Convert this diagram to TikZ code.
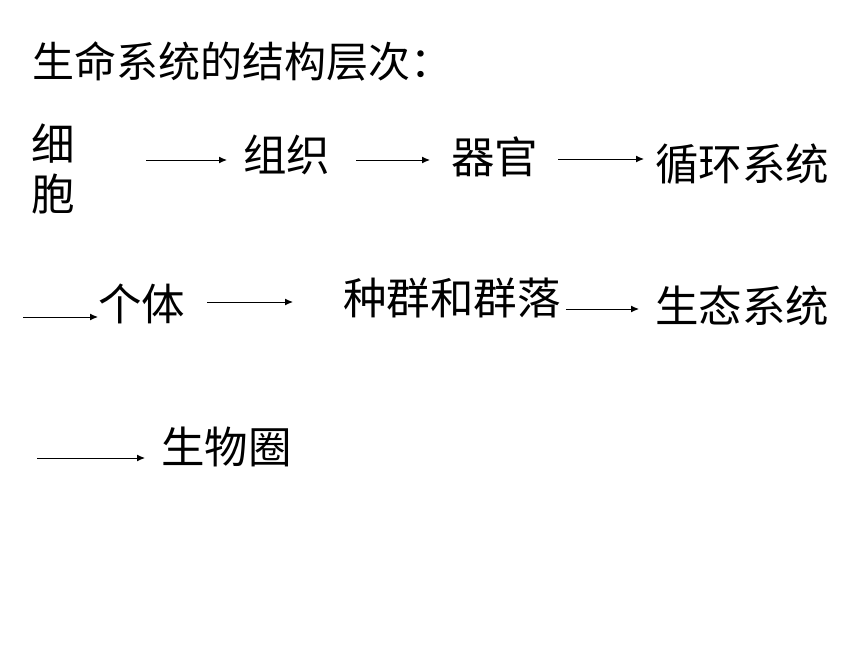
\documentclass[tikz,border=0pt]{standalone}
\usepackage{fontspec}
\setmainfont{Noto Sans CJK SC}
\usetikzlibrary{arrows, arrows.meta, positioning}

\begin{document}
\begin{tikzpicture}[>={Latex[length=8pt, width=7pt]}, x=1pt, y=-1pt,
    level/.style={inner sep=0pt, anchor=west, font=\fontsize{43.5}{50}\selectfont},
    link/.style={->, line width=1pt}]
      \useasboundingbox (0, 0) rectangle (860, 645);

      \node[level, font=\fontsize{42}{50}\selectfont] (title) at (32, 61) {生命系统的结构层次：};

      % first row
      \node[level, align=left] (cell) at (31, 169) {细\\胞};
      \node[level] (tissue) at (243, 155) {组织};
      \node[level] (organ) at (451, 157) {器官};
      \node[level] (system) at (655, 164) {循环系统};

      % second row
      \node[level] (individual) at (98, 304) {个体};
      \node[level] (community) at (343, 298) {种群和群落};
      \node[level] (ecosystem) at (655, 306) {生态系统};

      % third row
      \node[level] (biosphere) at (161, 447) {生物圈};

      \coordinate (in1) at (23, 317);
      \coordinate (in2) at (37, 458);

      \draw[link] (146, 160) coordinate (c1) -- (227, 160) coordinate (c2);
      \draw[link] (356, 160) coordinate (c3) -- (430, 160) coordinate (c4);
      \draw[link] (558, 159) coordinate (c5) -- (644, 159) coordinate (c6);
      \draw[link] (in1) -- (individual.west |- in1);
      \draw[link] (207, 302) coordinate (c7) -- (293, 302) coordinate (c8);
      \draw[link] ([xshift=5pt, yshift=-11pt]community.east) -- (639, 309) coordinate (c9);
      \draw[link] (in2) -- (145, 458) coordinate (c10);

    \end{tikzpicture}
\end{document}
